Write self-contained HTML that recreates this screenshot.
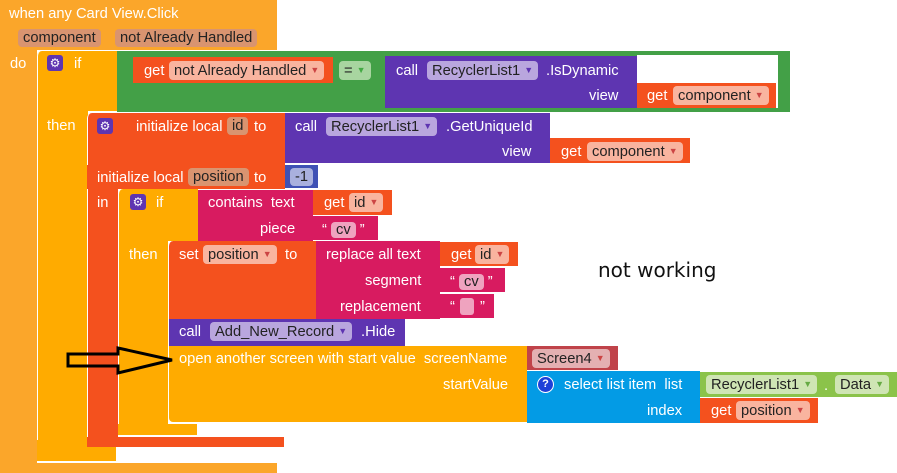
<!DOCTYPE html><html><head><style>
body{margin:0;width:897px;height:473px;background:#fff;position:relative;overflow:hidden;font-family:"Liberation Sans",Arial,sans-serif;font-size:14.7px;color:#fff}
div{position:absolute;box-sizing:border-box}
.t{white-space:nowrap;line-height:16px}
.p{background:rgba(255,255,255,.45);color:#222;border-radius:4px;padding:0 5px;white-space:nowrap;line-height:18px;font-size:14.7px}
.p i{font-style:normal;font-size:9px;color:#c44;vertical-align:2px}
.g{width:16px;height:16px;background:#5E35B1;border-radius:3px;color:#fff;font-size:12px;text-align:center;line-height:16px}
</style></head><body>
<div style="left:0;top:0;width:277px;height:50px;background:#FBA62A;border-radius:4px 0 0 0"></div>
<div style="left:0;top:0;width:37px;height:473px;background:#FBA62A"></div>
<div style="left:0;top:463px;width:277px;height:10px;background:#FBA62A"></div>
<div class="t" style="left:9px;top:6px">when any Card View.Click</div>
<div class="p" style="left:18px;top:29px;background:#D99470">component</div>
<div class="p" style="left:115px;top:29px;background:#D99470">not Already Handled</div>
<div class="t" style="left:10px;top:56px">do</div>
<div style="left:37px;top:51px;width:80px;height:60px;background:#FFAB00;border-radius:5px 0 0 0"></div>
<div style="left:37px;top:51px;width:51px;height:410px;background:#FFAB00;border-left:1px solid #fff;border-bottom:1px solid #fff;border-radius:5px 0 0 5px"></div>
<div style="left:37px;top:440px;width:79px;height:21px;background:#FFAB00"></div>
<div class="g" style="left:47px;top:55px">⚙</div>
<div class="t" style="left:74px;top:56px">if</div>
<div class="t" style="left:47px;top:118px">then</div>
<div style="left:117px;top:51px;width:673px;height:61px;background:#43A047"></div>
<div style="left:637px;top:55px;width:141px;height:53px;background:#fff"></div>
<div style="left:133px;top:57px;width:200px;height:26px;background:#F4511E"></div>
<div class="t" style="left:144px;top:63px">get</div>
<div class="p" style="left:169px;top:61px;background:#F9B49F">not Already Handled <i>▼</i></div>
<div class="p" style="left:339px;top:61px;background:#A8D5A0">= <i style="color:#4a4">▼</i></div>
<div style="left:385px;top:56px;width:252px;height:52px;background:#5E35B1"></div>
<div class="t" style="left:396px;top:63px">call</div>
<div class="p" style="left:427px;top:61px;background:#B9A6DE">RecyclerList1 <i style="color:#5E35B1">▼</i></div>
<div class="t" style="left:546px;top:63px">.IsDynamic</div>
<div class="t" style="left:589px;top:88px">view</div>
<div style="left:637px;top:83px;width:139px;height:25px;background:#F4511E"></div>
<div class="t" style="left:647px;top:88px">get</div>
<div class="p" style="left:673px;top:86px;background:#F9B49F">component <i>▼</i></div>
<div style="left:87px;top:113px;width:198px;height:52px;background:#F4511E;border-radius:5px 0 0 0"></div>
<div style="left:87px;top:113px;width:31px;height:334px;background:#F4511E;border-left:1px solid #fff;border-radius:5px 0 0 5px"></div>
<div style="left:87px;top:165px;width:198px;height:24px;background:#F4511E"></div>
<div style="left:87px;top:437px;width:197px;height:10px;background:#F4511E"></div>
<div class="g" style="left:97px;top:118px">⚙</div>
<div class="t" style="left:136px;top:119px">initialize local</div>
<div class="p" style="left:227px;top:117px;background:#D99470">id</div>
<div class="t" style="left:254px;top:119px">to</div>
<div style="left:285px;top:113px;width:265px;height:50px;background:#5E35B1"></div>
<div class="t" style="left:295px;top:119px">call</div>
<div class="p" style="left:326px;top:117px;background:#B9A6DE">RecyclerList1 <i style="color:#5E35B1">▼</i></div>
<div class="t" style="left:446px;top:119px">.GetUniqueId</div>
<div class="t" style="left:502px;top:144px">view</div>
<div style="left:550px;top:138px;width:140px;height:25px;background:#F4511E"></div>
<div class="t" style="left:561px;top:144px">get</div>
<div class="p" style="left:587px;top:142px;background:#F9B49F">component <i>▼</i></div>
<div class="t" style="left:97px;top:170px">initialize local</div>
<div class="p" style="left:188px;top:168px;background:#D99470">position</div>
<div class="t" style="left:254px;top:170px">to</div>
<div style="left:285px;top:165px;width:33px;height:23px;background:#3F51B5"></div>
<div class="p" style="left:290px;top:168px;background:#A9B0DE">-1</div>
<div class="t" style="left:97px;top:195px">in</div>
<div style="left:118px;top:189px;width:80px;height:52px;background:#FFAB00;border-left:1px solid #fff;border-radius:5px 0 0 0"></div>
<div style="left:118px;top:189px;width:50px;height:246px;background:#FFAB00;border-left:1px solid #fff;border-radius:5px 0 0 5px"></div>
<div style="left:118px;top:424px;width:79px;height:11px;background:#FFAB00"></div>
<div class="g" style="left:130px;top:194px">⚙</div>
<div class="t" style="left:156px;top:195px">if</div>
<div class="t" style="left:129px;top:247px">then</div>
<div style="left:198px;top:190px;width:115px;height:51px;background:#D81B60"></div>
<div class="t" style="left:208px;top:195px">contains&nbsp; text</div>
<div class="t" style="left:260px;top:221px">piece</div>
<div style="left:313px;top:190px;width:79px;height:25px;background:#F4511E"></div>
<div class="t" style="left:324px;top:195px">get</div>
<div class="p" style="left:349px;top:193px;background:#F9B49F">id <i>▼</i></div>
<div style="left:313px;top:216px;width:65px;height:24px;background:#D81B60"></div>
<div class="t" style="left:322px;top:221px">“ <span class="p" style="position:static;background:#EFA3BF">cv</span> ”</div>
<div style="left:168px;top:241px;width:148px;height:78px;background:#F4511E;border-left:1px solid #fff;border-radius:5px 0 0 0"></div>
<div class="t" style="left:179px;top:247px">set</div>
<div class="p" style="left:203px;top:245px;background:#F9B49F">position <i>▼</i></div>
<div class="t" style="left:285px;top:247px">to</div>
<div style="left:316px;top:241px;width:124px;height:78px;background:#D81B60"></div>
<div class="t" style="left:326px;top:247px">replace all text</div>
<div class="t" style="left:365px;top:273px">segment</div>
<div class="t" style="left:340px;top:299px">replacement</div>
<div style="left:440px;top:242px;width:78px;height:24px;background:#F4511E"></div>
<div class="t" style="left:451px;top:247px">get</div>
<div class="p" style="left:475px;top:245px;background:#F9B49F">id <i>▼</i></div>
<div style="left:440px;top:268px;width:65px;height:24px;background:#D81B60"></div>
<div class="t" style="left:450px;top:273px">“ <span class="p" style="position:static;background:#EFA3BF">cv</span> ”</div>
<div style="left:440px;top:294px;width:54px;height:24px;background:#D81B60"></div>
<div class="t" style="left:450px;top:299px">“</div>
<div style="left:460px;top:298px;width:14px;height:17px;background:#EFA3BF;border-radius:3px"></div>
<div class="t" style="left:480px;top:299px">”</div>
<div style="left:168px;top:319px;width:237px;height:27px;background:#5E35B1;border-left:1px solid #fff"></div>
<div class="t" style="left:179px;top:324px">call</div>
<div class="p" style="left:210px;top:322px;background:#B9A6DE">Add_New_Record <i style="color:#5E35B1">▼</i></div>
<div class="t" style="left:361px;top:324px">.Hide</div>
<div style="left:168px;top:346px;width:359px;height:77px;background:#FFAB00;border-left:1px solid #fff;border-bottom:1px solid #fff;border-radius:0 0 0 5px"></div>
<div class="t" style="left:179px;top:351px">open another screen with start value&nbsp; screenName</div>
<div class="t" style="left:443px;top:377px">startValue</div>
<div style="left:527px;top:346px;width:91px;height:24px;background:#C0434A"></div>
<div class="p" style="left:532px;top:349px;background:#E4B0B2">Screen4 <i>▼</i></div>
<div style="left:527px;top:371px;width:173px;height:52px;background:#039BE5"></div>
<div style="left:537px;top:376px;width:17px;height:17px;border-radius:50%;background:#1E40D8;border:1px solid #fff;font-size:11px;text-align:center;line-height:15px;font-weight:bold">?</div>
<div class="t" style="left:564px;top:377px">select list item&nbsp; list</div>
<div class="t" style="left:647px;top:403px">index</div>
<div style="left:700px;top:372px;width:197px;height:25px;background:#8BC34A"></div>
<div class="p" style="left:706px;top:375px;background:#CFE5B4">RecyclerList1 <i style="color:#6a4">▼</i></div>
<div class="t" style="left:824px;top:378px">.</div>
<div class="p" style="left:835px;top:375px;background:#CFE5B4">Data <i style="color:#6a4">▼</i></div>
<div style="left:700px;top:398px;width:118px;height:25px;background:#F4511E"></div>
<div class="t" style="left:711px;top:403px">get</div>
<div class="p" style="left:736px;top:401px;background:#F9B49F">position <i>▼</i></div>
<svg style="position:absolute;left:60px;top:340px" width="120" height="40"><polygon points="8,14 58,14 58,8 112,20 58,33 58,26 8,26" fill="none" stroke="#000" stroke-width="3"/></svg>
<div class="t" style="left:598px;top:259px;color:#111;font-size:20px;line-height:22px;font-family:'DejaVu Sans',sans-serif">not working</div>
</body></html>
